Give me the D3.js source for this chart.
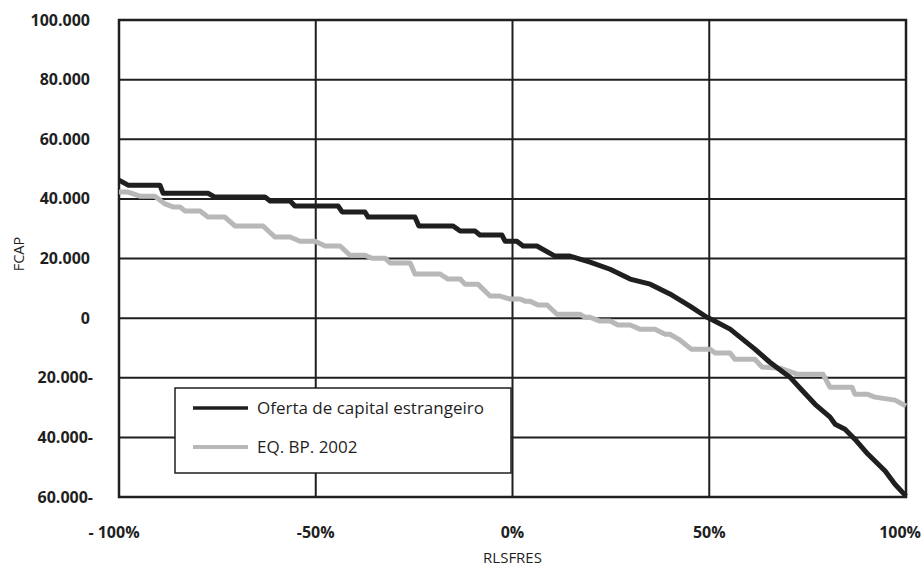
<!DOCTYPE html>
<html>
<head>
<meta charset="utf-8">
<script src="https://cdn.jsdelivr.net/npm/d3@7/dist/d3.min.js"></script>
<style>
  html, body { margin: 0; padding: 0; background: #fff; }
  svg { display: block; font-family: "Open Sans", "Noto Sans", sans-serif; }
</style>
</head>
<body>
<svg id="chart" width="922" height="569"></svg>
<script>
// ---- data ----
const seriesNames = ["Oferta de capital estrangeiro", "EQ. BP. 2002"];
const xTicks = [-100, -50, 0, 50, 100];
const xTickLabels = ["- 100%", "-50%", "0%", "50%", "100%"];
const yTicks = [-60000, -40000, -20000, 0, 20000, 40000, 60000, 80000, 100000];
const yTickLabels = ["60.000-", "40.000-", "20.000-", "0", "20.000", "40.000", "60.000", "80.000", "100.000"];

// Oferta de capital estrangeiro: [RLSFRES %, FCAP]
const ofertaX = [-100, -97.7, -89.6, -88.8, -77.4, -75.6, -62.9, -61.6, -56.5, -55.3, -44.3, -43.3, -37.5, -36.7, -24.8, -23.8, -15.1, -13.3, -9.5, -8.3, -2.7, -1.9, 1.1, 2.7, 6.2, 10.8, 14.6, 19.7, 24.8, 29.9, 35.0, 40.0, 45.1, 49.4, 51.0, 55.3, 61.6, 65.4, 70.5, 73.1, 76.9, 80.7, 82.0, 84.5, 87.0, 90.3, 94.7, 97.2, 100];
const ofertaY = [46300, 44600, 44600, 41900, 41900, 40600, 40600, 39300, 39300, 37600, 37600, 35600, 35600, 33900, 33900, 30900, 30900, 29200, 29200, 27900, 27900, 25800, 25800, 24200, 24200, 20800, 20800, 18800, 16400, 13100, 11400, 8100, 4000, 300, -700, -3700, -10400, -14800, -19800, -23500, -28900, -33200, -35600, -37300, -40600, -45600, -51300, -55700, -59700];

// EQ. BP. 2002
const eqX = [-100, -97.7, -94.7, -90.9, -88.3, -86.3, -84.5, -83.2, -79.4, -77.4, -73.1, -70.5, -63.4, -60.4, -56.5, -54.0, -50.2, -47.6, -43.8, -41.3, -37.5, -35.7, -32.4, -31.1, -26.0, -24.8, -18.4, -16.4, -13.3, -12.1, -8.8, -5.7, -3.2, -0.6, 1.9, 3.2, 4.4, 6.5, 8.8, 11.3, 17.2, 18.4, 19.7, 22.2, 24.8, 26.8, 29.9, 32.4, 36.2, 38.8, 40.0, 42.6, 45.4, 50.2, 51.5, 55.3, 56.5, 61.6, 63.4, 68.0, 72.3, 78.9, 80.7, 86.3, 87.0, 90.1, 92.1, 97.2, 100];
const eqY = [42300, 42300, 40900, 40900, 38300, 37300, 37300, 35900, 35900, 33900, 33900, 30900, 30900, 27200, 27200, 25800, 25800, 24200, 24200, 21100, 21100, 20100, 20100, 18500, 18500, 14800, 14800, 13100, 13100, 11400, 11400, 7400, 7400, 6400, 6400, 5700, 5700, 4400, 4400, 1300, 1300, 300, 300, -1000, -1000, -2300, -2300, -3700, -3700, -5400, -5400, -7400, -10400, -10400, -11700, -11700, -13800, -13800, -16400, -16800, -18800, -18800, -23200, -23200, -25500, -25500, -26500, -27500, -29500];

// ---- layout ----
const svg = d3.select("#chart");
const pLeft = 119, pRight = 906, pTop = 20, pBottom = 497;
const x = d3.scaleLinear().domain([-100, 100]).range([pLeft, pRight]);
const y = d3.scaleLinear().domain([-60000, 100000]).range([pBottom, pTop]);
const ink = "#1f1f1f";

// grid
svg.append("g").selectAll("line").data(yTicks).join("line")
  .attr("x1", pLeft).attr("x2", pRight)
  .attr("y1", d => y(d)).attr("y2", d => y(d))
  .attr("stroke", ink).attr("stroke-width", 2);
svg.append("g").selectAll("line").data(xTicks).join("line")
  .attr("y1", pTop).attr("y2", pBottom)
  .attr("x1", d => x(d)).attr("x2", d => x(d))
  .attr("stroke", ink).attr("stroke-width", 2);
svg.append("rect").attr("x", pLeft).attr("y", pTop)
  .attr("width", pRight - pLeft).attr("height", pBottom - pTop)
  .attr("fill", "none").attr("stroke", ink).attr("stroke-width", 2.5);

// y tick labels
svg.append("g").selectAll("text").data(yTicks).join("text")
  .attr("x", (d, i) => yTickLabels[i].endsWith("-") ? 93 : 90)
  .attr("y", d => y(d))
  .attr("dy", "0.35em")
  .attr("text-anchor", "end")
  .attr("font-size", 16).attr("font-weight", "bold").attr("fill", ink)
  .text((d, i) => yTickLabels[i]);

// x tick labels
svg.append("g").selectAll("text").data(xTicks).join("text")
  .attr("x", (d, i) => i === xTicks.length - 1 ? 921 : x(d) - (i === 0 ? 5 : 0))
  .attr("y", 538)
  .attr("text-anchor", (d, i) => i === xTicks.length - 1 ? "end" : "middle")
  .attr("font-size", 16).attr("font-weight", "bold").attr("fill", ink)
  .text((d, i) => xTickLabels[i]);

// axis titles
svg.append("text").attr("x", x(0)).attr("y", 563)
  .attr("text-anchor", "middle").attr("font-size", 15).attr("fill", ink)
  .text("RLSFRES");
svg.append("text").attr("transform", "translate(24,254) rotate(-90)")
  .attr("text-anchor", "middle").attr("font-size", 14.5).attr("fill", ink)
  .text("FCAP");

// lines
const line = d3.line().x(d => x(d[0])).y(d => y(d[1]));
const eqData = d3.zip(eqX, eqY);
const ofertaData = d3.zip(ofertaX, ofertaY);
svg.append("path").datum(eqData).attr("d", line)
  .attr("fill", "none").attr("stroke", "#b8b8b8").attr("stroke-width", 5)
  .attr("stroke-linejoin", "round");
svg.append("path").datum(ofertaData).attr("d", line)
  .attr("fill", "none").attr("stroke", ink).attr("stroke-width", 5)
  .attr("stroke-linejoin", "round");

// legend
const lg = svg.append("g");
lg.append("rect").attr("x", 175).attr("y", 388).attr("width", 336).attr("height", 85)
  .attr("fill", "#fff").attr("stroke", ink).attr("stroke-width", 1.5);
const legendColors = [ink, "#b8b8b8"];
const legendWidths = [3.5, 4];
seriesNames.forEach((name, i) => {
  const ly = 408 + i * 39;
  lg.append("line").attr("x1", 193).attr("x2", 248).attr("y1", ly).attr("y2", ly)
    .attr("stroke", legendColors[i]).attr("stroke-width", legendWidths[i]);
  lg.append("text").attr("x", 257).attr("y", ly).attr("dy", "0.35em")
    .attr("font-size", 17).attr("fill", ink).text(name);
});
</script>
</body>
</html>
